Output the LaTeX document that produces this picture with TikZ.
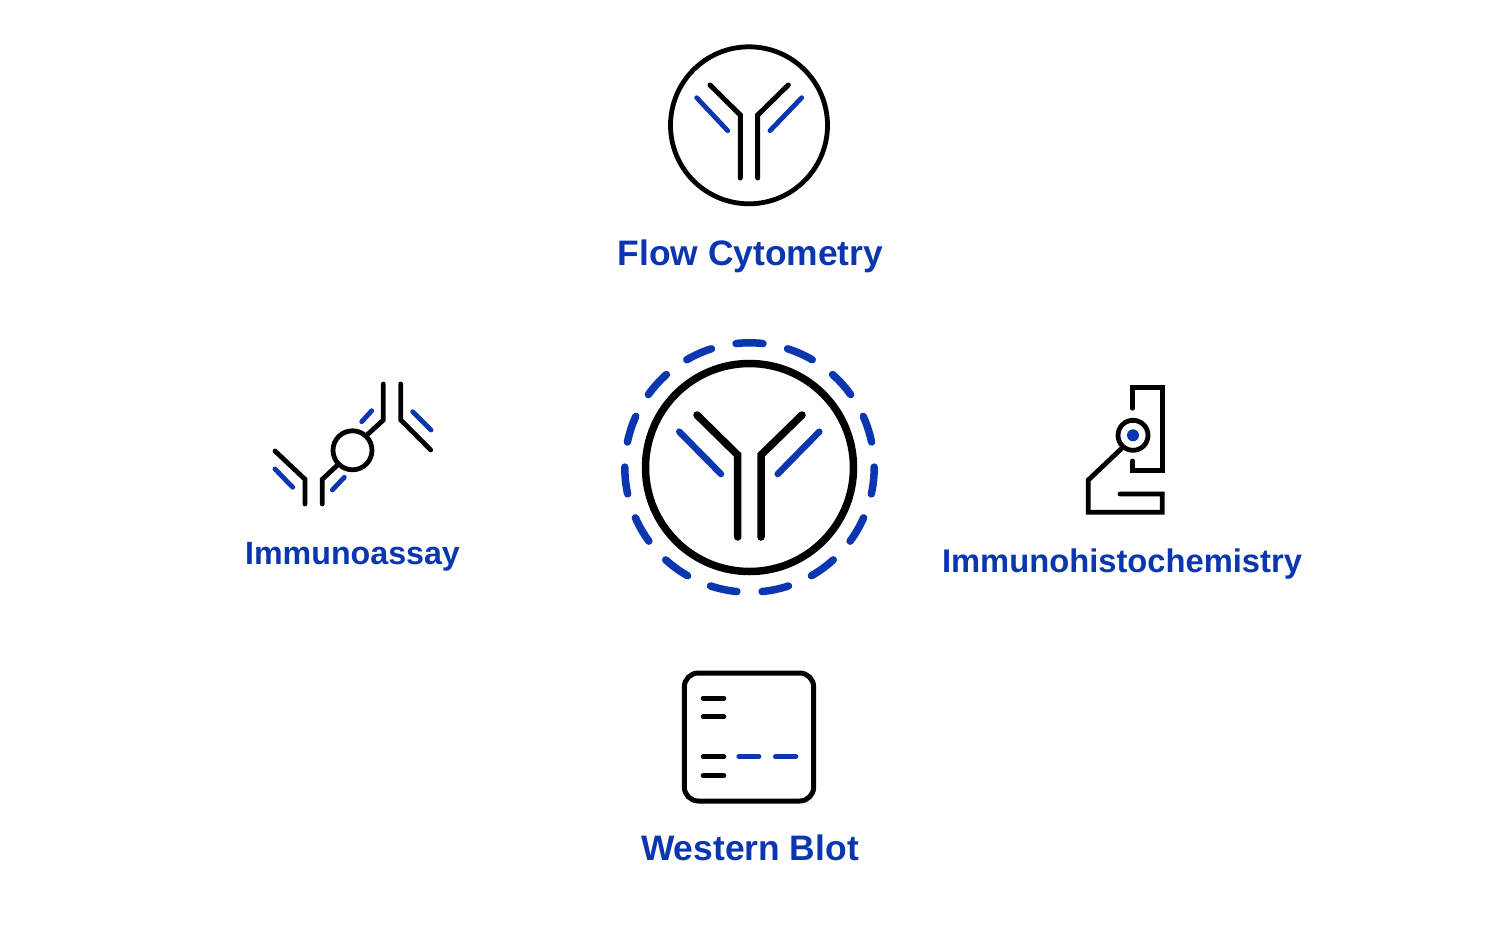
\documentclass[tikz,border=0pt]{standalone}
\usepackage{fontspec}
\setmainfont{Liberation Sans}
\definecolor{brandblue}{HTML}{0A37B0}
\tikzset{
  x=0.5pt,y=-0.5pt,
  ink/.style={draw=black,line cap=round,line join=miter,line width=#1*0.5pt,fill=none},
  blu/.style={draw=brandblue,line cap=round,line join=round,line width=#1*0.5pt,fill=none},
  label/.style={text=brandblue,inner sep=0pt,anchor=base,font=\bfseries}
}
\begin{document}
\begin{tikzpicture}
\useasboundingbox (0,0) rectangle (1500,938);
\fill[white] (0,0) rectangle (1500,938);
% centre
\draw[ink=7.5] (749.5,467.5) circle[radius=104];
\foreach \k in {0,...,14}{
  \pgfmathsetmacro{\a}{90-24*\k}
  \draw[blu=7.5] ({749.5+124.7*cos(\a-6.2)},{467.5-124.7*sin(\a-6.2)}) arc[start angle={-(\a-6.2)},end angle={-(\a+6.2)},radius=124.7];
}
\draw[ink=7.5] (737.7,537) -- (737.7,455) -- (697,415);
\draw[ink=7.5] (761,537) -- (761,455) -- (802,415);
\draw[blu=6.5] (679.3,431.7) -- (721,474);
\draw[blu=6.5] (819.3,431.7) -- (777.7,474);
% flow cytometry
\draw[ink=4.8] (749,125.3) circle[radius=78.5];
\draw[ink=5] (740.3,178) -- (740.3,115) -- (710,85);
\draw[ink=5] (757.7,178) -- (757.7,115) -- (788.3,85);
\draw[blu=4.8] (696.7,97.7) -- (727.7,130.7);
\draw[blu=4.8] (801.7,97.7) -- (770,130.7);
% immunoassay
\draw[ink=4.8] (352.5,450.3) circle[radius=19.5];
\draw[ink=4.8] (383.3,384) -- (383.3,420) -- (367.5,434.5);
\draw[ink=4.8] (400.7,384) -- (400.7,420) -- (430.7,450);
\draw[blu=4.8] (371.7,410.7) -- (361.7,421.7);
\draw[blu=4.8] (412.7,411.7) -- (431,430);
\draw[ink=4.8] (275,451) -- (305,479.3) -- (305,504);
\draw[ink=4.8] (322.3,504) -- (322.3,479.3) -- (336.5,466);
\draw[blu=4.8] (275,469) -- (292.7,487.3);
\draw[blu=4.8] (332.3,490) -- (344.3,477.3);
% immunohistochemistry
\draw[ink=4.8] (1132.3,408.3) -- (1132.3,387.7) -- (1162.3,387.7) -- (1162.3,470.7) -- (1132.3,470.7) -- (1132.3,461);
\draw[ink=4.8] (1133,435.3) circle[radius=15];
\fill[brandblue] (1133,435.3) circle[radius=6];
\draw[ink=4.8] (1121,449) -- (1088.3,480) -- (1088.3,512.3) -- (1162.3,512.3) -- (1162.3,494) -- (1120,494);
% western blot
\draw[ink=5,rounded corners=7pt] (684.3,673) rectangle (813.7,801);
\draw[ink=4.6] (703,698.3) -- (724,698.3);
\draw[ink=4.6] (703,716.7) -- (724,716.7);
\draw[ink=4.6] (703,756.7) -- (724,756.7);
\draw[ink=4.6] (703,775.7) -- (724,775.7);
\draw[blu=4.6] (738.7,756.7) -- (759,756.7);
\draw[blu=4.6] (775.3,756.7) -- (796,756.7);
% labels
\node[label,font=\bfseries\fontsize{17.7}{20}\selectfont] (flow) at (750.5,265) {Flow Cytometry};
\node[label,font=\bfseries\fontsize{16.1}{20}\selectfont] (assay) at (352.5,564) {Immunoassay};
\node[label,font=\bfseries\fontsize{16.36}{20}\selectfont] (ihc) at (1122,572) {Immunohistochemistry};
\node[label,font=\bfseries\fontsize{17.7}{20}\selectfont] (wb) at (750,860) {Western Blot};
\end{tikzpicture}
\end{document}
